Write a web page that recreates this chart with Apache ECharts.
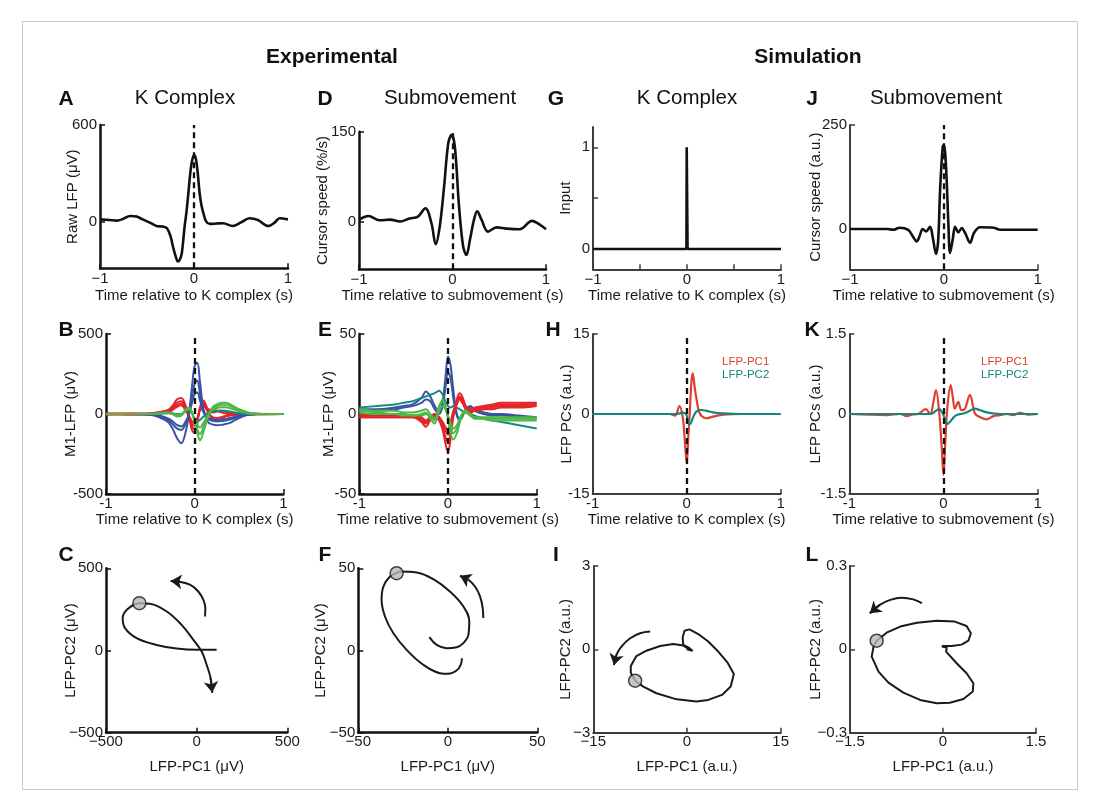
<!DOCTYPE html>
<html>
<head>
<meta charset="utf-8">
<script src="https://cdn.jsdelivr.net/npm/echarts@6/dist/echarts.min.js"></script>
<style>html,body{margin:0;padding:0;background:#fff}#c{width:1099px;height:810px}</style>
</head>
<body>
<div id="c"></div>
<script>
// ---------------- DATA ----------------
// Panel A: raw LFP around K complex
const A_T = [-1, -0.9, -0.82, -0.75, -0.68, -0.61, -0.54, -0.47, -0.4, -0.33, -0.29, -0.25, -0.22, -0.19, -0.17, -0.15, -0.13, -0.1, -0.08, -0.06, -0.04, -0.02, 0, 0.02, 0.04, 0.06, 0.08, 0.1, 0.13, 0.17, 0.24, 0.31, 0.41, 0.5, 0.59, 0.68, 0.79, 0.86, 0.91, 1];
const A_V = [14, 10, 6, 18, 35, 31, 12, -6, -27, -31, -40, -90, -165, -225, -248, -235, -197, -31, 60, 176, 300, 380, 414, 390, 300, 176, 100, 52, 0, -14, -12, -10, -27, -5, 21, 10, -27, -5, 21, 14];
// Panel D: cursor speed around submovement
const D_T = [-1, -0.95, -0.9, -0.78, -0.67, -0.56, -0.46, -0.37, -0.29, -0.225, -0.18, -0.136, -0.09, -0.046, -0.01, 0.025, 0.07, 0.114, 0.15, 0.186, 0.23, 0.264, 0.31, 0.38, 0.47, 0.58, 0.72, 0.85, 0.94, 1];
const D_V = [3, 7, 9, 2, 3, 0, 5, 8, 22, -3, -38, -8, 58, 130, 145, 125, 25, -42, -56, -31, 3, 17, 3, -17, -10, -12, -13, 1, -6, -13];
// Panel G: simulated input
const G_T = [-1, -0.006, -0.003, 0.003, 0.006, 1];
const G_V = [0, 0, 1, 1, 0, 0];
// Panel J: simulated cursor speed
const J_T = [-1, -0.8, -0.6, -0.54, -0.47, -0.38, -0.33, -0.29, -0.26, -0.225, -0.19, -0.147, -0.12, -0.083, -0.06, -0.04, -0.012, 0, 0.023, 0.048, 0.066, 0.094, 0.12, 0.155, 0.19, 0.225, 0.28, 0.32, 0.385, 0.53, 0.6, 0.81, 1];
const J_V = [0, 0, 0, -2, 3, -2, -18, -30, -18, 0, -6, 5, -18, -60, -26, 94, 198, 202, 150, 14, -58, -26, 5, -8, 2, -9, -33, -10, 4, 3, -2, -2, -2];
// Panel B: M1-LFP channels (K complex)
const B_T = [-1, -0.7, -0.5, -0.4, -0.3, -0.25, -0.2, -0.15, -0.1, -0.06, -0.03, 0, 0.03, 0.06, 0.1, 0.15, 0.2, 0.25, 0.3, 0.35, 0.4, 0.5, 0.6, 0.7, 1];
const B_BLUE1 = [0, 0, -5, -20, -50, -90, -150, -183, -110, 20, 170, 300, 320, 200, 30, -50, -65, -70, -68, -62, -55, -25, -5, 0, 0];
const B_BLUE2 = [0, 0, -5, -15, -38, -62, -90, -100, -60, 10, 110, 190, 210, 130, 20, -30, -42, -46, -45, -40, -35, -15, -3, 0, 0];
const B_BLUE3 = [0, 0, -3, -10, -28, -45, -68, -78, -45, 5, 70, 125, 135, 85, 10, -22, -32, -36, -35, -30, -25, -10, -2, 0, 0];
const B_RED1 = [0, -5, 0, 10, 25, 50, 90, 100, 50, -30, -100, -120, -60, 40, 85, 20, -30, -40, -30, -15, -10, -5, 0, 0, 0];
const B_RED2 = [5, 0, 5, 12, 20, 40, 70, 80, 35, -25, -80, -95, -45, 35, 70, 30, 10, 15, 20, 15, 10, 5, 2, 0, 0];
const B_RED3 = [-5, 0, 0, 8, 15, 30, 55, 65, 30, -20, -60, -75, -35, 30, 60, 10, -20, -25, -20, -10, -5, 0, -5, 0, 0];
const B_RED4 = [0, 5, 2, 5, 10, 25, 45, 55, 20, -15, -45, -55, -25, 20, 45, 30, 25, 20, 10, 5, 3, 0, 0, -3, 0];
const B_GREEN1 = [0, 0, 0, 5, 10, 0, -15, -10, 30, 40, 10, -50, -120, -165, -110, -20, 40, 60, 70, 70, 60, 30, 10, 2, 0];
const B_GREEN2 = [0, 0, 0, 4, 8, 0, -10, -5, 25, 35, 10, -40, -95, -125, -80, -10, 35, 50, 58, 57, 50, 25, 8, 2, 0];
const B_GREEN3 = [0, 0, 0, 3, 6, 2, -5, 0, 20, 30, 5, -30, -65, -85, -55, -5, 25, 38, 42, 42, 36, 18, 5, 1, 0];
const B_TEAL = [0, 0, 0, 2, 5, 5, 0, 0, 20, 28, 5, -30, -45, -38, -15, 5, 15, 20, 22, 20, 15, 5, 0, 0, 0];
// Panel E: M1-LFP channels (submovement)
const E_T = [-1, -0.8, -0.6, -0.5, -0.4, -0.3, -0.25, -0.2, -0.15, -0.1, -0.06, -0.03, 0, 0.03, 0.06, 0.1, 0.13, 0.16, 0.2, 0.25, 0.3, 0.4, 0.5, 0.6, 0.8, 1];
const E_BLUE1 = [3, 3, 4, 5, 6, 10, 14, 11, 5, 2, 8, 22, 36, 30, 15, 0, -4, -2, 3, 5, 3, 1, 0, 0, -1, -2];
const E_BLUE2 = [2, 2, 3, 4, 5, 7, 9, 8, 3, 0, 5, 16, 26, 22, 10, -1, -3, -1, 2, 4, 2, 0, -1, -1, -2, -3];
const E_RED1 = [-2, -2, -2, -2, -2, -5, -8, -4, -2, -4, -10, -18, -24, -15, -2, 9, 13, 11, 5, 1, 2, 3, 4, 5, 5, 6];
const E_RED2 = [-1, -1, -1, -1, -1, -4, -6, -3, -1, -3, -8, -14, -18, -11, 0, 8, 11, 9, 4, 2, 3, 4, 5, 6, 6, 7];
const E_RED3 = [-2, -2, -2, -2, -2, -3, -5, -2, 0, -2, -6, -10, -13, -8, 0, 6, 9, 7, 3, 1, 2, 3, 3, 4, 4, 5];
const E_RED4 = [0, 0, 0, -1, -1, -2, -4, -2, 0, -2, -5, -8, -10, -5, 2, 7, 10, 8, 4, 3, 4, 5, 6, 7, 7, 7];
const E_GREEN1 = [2, 1, 0, 0, -1, 0, 1, -3, -6, 4, 9, 5, -3, -12, -16, -12, -6, -1, 2, -1, -3, -3, -3, -3, -3, -3];
const E_GREEN2 = [3, 2, 2, 1, 1, 2, 3, 0, -3, 5, 8, 4, -2, -9, -12, -9, -4, 0, 2, 0, -2, -2, -2, -2, -2, -2];
const E_GREEN3 = [1, 0, 0, -1, -1, -1, 0, -2, -4, 2, 5, 3, -1, -6, -9, -7, -3, 0, 1, -1, -2, -3, -4, -4, -4, -4];
const E_TEAL = [4, 5, 6, 7, 8, 10, 11, 12, 13, 14.5, 12, 8, 5, 4, 5, 4, 3, 2, 1, 0, -1, -3, -4, -5, -7, -9];
// Panel H: simulated LFP PCs (K complex)
const H_T = [-1, -0.5, -0.18, -0.124, -0.078, -0.043, -0.02, 0, 0.018, 0.035, 0.05, 0.064, 0.085, 0.106, 0.13, 0.16, 0.21, 0.28, 0.39, 0.6, 1];
const H_PC1 = [0, 0, 0, -0.3, 1.5, -0.5, -5, -9.3, -4, 1, 6, 7.6, 5, 2.6, 0.5, -0.4, -0.8, -0.5, -0.1, 0, 0];
const H_PC2 = [0, 0, 0, 0, 0.1, 0.25, 0.2, -0.3, -1.5, -1.9, -1.5, -0.8, 0, 0.5, 0.75, 0.75, 0.6, 0.3, 0.1, 0, 0];
// Panel K: simulated LFP PCs (submovement)
const K_T = [-1, -0.6, -0.46, -0.39, -0.33, -0.27, -0.19, -0.14, -0.11, -0.08, -0.044, -0.02, 0, 0.02, 0.04, 0.076, 0.1, 0.12, 0.157, 0.19, 0.228, 0.28, 0.334, 0.39, 0.46, 0.53, 0.6, 0.67, 0.74, 0.81, 0.9, 1];
const K_PC1 = [0, -0.02, 0, -0.04, -0.01, 0, 0.09, 0, 0.2, 0.45, 0, -0.6, -1.14, -0.5, 0.1, 0.54, 0.3, 0.1, 0.23, 0.07, 0.1, 0.36, 0.01, -0.06, -0.1, -0.04, -0.02, 0, -0.02, 0.02, -0.01, 0];
const K_PC2 = [0, 0, 0, 0, 0, 0, 0, 0, 0.02, 0.06, 0.09, 0.05, -0.02, -0.12, -0.19, -0.13, -0.08, -0.04, -0.01, 0, 0.02, 0.06, 0.1, 0.07, 0.03, 0.01, 0, 0, 0, 0, 0, 0];
// Panel C: experimental PC trajectory (K complex)
const C_X = [110, 0, -110, -221, -331, -395, -408, -386, -316, -257, -165, -83, -18, 28, 55, 77, 86];
const C_Y = [4, 4, 12, 34, 75, 136, 197, 247, 288, 284, 237, 156, 65, -6, -87, -168, -256];
const C_DOT = [-316, 288];
const C_ARC_X = [46, 48, 37, 9, -37, -92, -143];
const C_ARC_Y = [207, 258, 308, 359, 400, 418, 422];
// Panel F: experimental PC trajectory (submovement)
const F_X = [7.9, 7.2, 4.9, 0.3, -4.4, -13.7, -23, -30.4, -35.1, -37, -36, -32.3, -28.6, -26.7, -17.4, -8.1, 1.2, 8.7, 12, 11.5, 8.7, 4.9, -0.7, -6.2, -10.3];
const F_Y = [-4.7, -8.7, -12.2, -14.2, -13.8, -8.7, 0.4, 10.5, 20.7, 30.8, 38.9, 45, 47, 48.1, 47.5, 43.4, 35.9, 26.8, 17.6, 9.5, 4.5, 2, 1.4, 3.4, 8.1];
const F_DOT = [-28.6, 47];
const F_ARC_X = [19.8, 19.5, 18, 15.2, 11.5, 6.8];
const F_ARC_Y = [19.7, 25.8, 32.9, 38.9, 43, 45.4];
// Panel I: simulated PC trajectory (K complex)
const I_X = [-0.05, 0.9, 1.1, 0.2, -0.6, -0.7, -0.4, 0.4, 1.8, 3.4, 5, 6.5, 7.5, 7, 5.6, 3.4, 1.5, -1.65, -4.9, -7, -8.3, -9, -9, -8.1, -6.5, -4.3, -2.2, -0.6, 0.2];
const I_Y = [0, -0.05, 0.02, 0.07, 0.16, 0.43, 0.67, 0.72, 0.55, 0.28, -0.08, -0.48, -0.89, -1.34, -1.64, -1.82, -1.88, -1.8, -1.58, -1.34, -1.13, -0.84, -0.6, -0.24, -0.05, 0.12, 0.19, 0.14, 0.02];
const I_DOT = [-8.3, -1.13];
const I_ARC_X = [-5.9, -7.5, -9.1, -10.5, -11.3, -11.7];
const I_ARC_Y = [0.64, 0.58, 0.4, 0.1, -0.2, -0.56];
// Panel L: simulated PC trajectory (submovement)
const L_X = [-0.02, 0.06, 0.05, 0.22, 0.38, 0.49, 0.48, 0.33, 0.11, -0.1, -0.37, -0.64, -0.88, -1.04, -1.15, -1.12, -1.07, -0.91, -0.69, -0.42, -0.1, 0.19, 0.38, 0.45, 0.41, 0.3, 0.14, -0.02];
const L_Y = [0.01, 0.007, -0.008, -0.05, -0.086, -0.122, -0.152, -0.179, -0.192, -0.194, -0.182, -0.156, -0.12, -0.08, -0.026, 0.01, 0.031, 0.06, 0.082, 0.096, 0.103, 0.1, 0.084, 0.058, 0.031, 0.017, 0.012, 0.012];
const L_DOT = [-1.07, 0.031];
const L_ARC_X = [-0.34, -0.48, -0.67, -0.85, -1.02, -1.18];
const L_ARC_Y = [0.166, 0.18, 0.186, 0.178, 0.16, 0.13];
// Tick labels
const TIME_TICKS = [-1, 0, 1];

// ---------------- LAYOUT / STYLE ----------------
const FONT = '"Liberation Sans", Arial, Helvetica, sans-serif';
const MINUS = '\u2212';
const EXP_AX = '#111111', SIM_AX = '#3d3d3d';
const COL = {blue: '#3853a4', red: '#e42528', green: '#4db748', teal: '#178a82', pc1: '#dc4130', pc2: '#15867f'};

// [left, top, width, height]
const GRID = [
  [100, 125, 188, 143.3],   // A
  [359, 131.7, 187, 137.6], // D
  [593, 127, 188, 142.3],   // G
  [850, 125, 187.7, 144.3], // J
  [106, 334, 177.3, 160],   // B
  [359.3, 334, 177.4, 160], // E
  [592.7, 334, 188, 160],   // H
  [849.3, 334, 188.4, 160], // K
  [106, 568.3, 181.3, 164.4], // C
  [358.3, 568.3, 179, 164.4], // F
  [593.3, 566, 187.4, 166.7], // I
  [850, 566, 186, 166.7]      // L
];

const AX = [
  {x:[-1,1], y:[-290,600], xt:TIME_TICKS, yt:[0,600], xn:'Time relative to K complex (s)', yn:'Raw LFP (\u03bcV)', ygap:20, xgap:20, xm:3, c:EXP_AX, w:2.5, minus:MINUS},
  {x:[-1,1], y:[-80,150], xt:TIME_TICKS, yt:[0,150], xn:'Time relative to submovement (s)', yn:'Cursor speed (%/s)', ygap:29, xgap:19, xm:3, c:EXP_AX, w:2.5, minus:MINUS},
  {x:[-1,1], y:[-0.2,1.2], xt:TIME_TICKS, xtt:[-1,-0.5,0,0.5,1], yt:[0,1], ytt:[0,0.5,1], xn:'Time relative to K complex (s)', yn:'Input', ygap:20, xgap:19, xm:3, c:SIM_AX, w:2, minus:MINUS},
  {x:[-1,1], y:[-97,250], xt:TIME_TICKS, yt:[0,250], xn:'Time relative to submovement (s)', yn:'Cursor speed (a.u.)', ygap:27, xgap:19, xm:3, c:SIM_AX, w:2, minus:MINUS},
  {x:[-1,1], y:[-500,500], xt:TIME_TICKS, yt:[-500,0,500], xn:'Time relative to K complex (s)', yn:'M1-LFP (\u03bcV)', ygap:28, xgap:18, xm:2, c:EXP_AX, w:2.5, minus:'-'},
  {x:[-1,1], y:[-50,50], xt:TIME_TICKS, yt:[-50,0,50], xn:'Time relative to submovement (s)', yn:'M1-LFP (\u03bcV)', ygap:23, xgap:18, xm:2, c:EXP_AX, w:2.5, minus:'-'},
  {x:[-1,1], y:[-15,15], xt:TIME_TICKS, yt:[-15,0,15], xn:'Time relative to K complex (s)', yn:'LFP PCs (a.u.)', ygap:18, xgap:18, xm:2, c:SIM_AX, w:2, minus:'-'},
  {x:[-1,1], y:[-1.5,1.5], xt:TIME_TICKS, yt:[-1.5,0,1.5], xn:'Time relative to submovement (s)', yn:'LFP PCs (a.u.)', ygap:26, xgap:18, xm:2, c:SIM_AX, w:2, minus:'-'},
  {x:[-500,500], y:[-500,500], xt:[-500,0,500], yt:[-500,0,500], xn:'LFP-PC1 (\u03bcV)', yn:'LFP-PC2 (\u03bcV)', ygap:28, xgap:27, xm:2, c:EXP_AX, w:2.5, minus:MINUS},
  {x:[-50,50], y:[-50,50], xt:[-50,0,50], yt:[-50,0,50], xn:'LFP-PC1 (\u03bcV)', yn:'LFP-PC2 (\u03bcV)', ygap:30, xgap:27, xm:2, c:EXP_AX, w:2.5, minus:MINUS},
  {x:[-15,15], y:[-3,3], xt:[-15,0,15], yt:[-3,0,3], xn:'LFP-PC1 (a.u.)', yn:'LFP-PC2 (a.u.)', ygap:20, xgap:27, xm:2, c:SIM_AX, w:2, minus:MINUS},
  {x:[-1.5,1.5], y:[-0.3,0.3], xt:[-1.5,0,1.5], yt:[-0.3,0,0.3], xn:'LFP-PC1 (a.u.)', yn:'LFP-PC2 (a.u.)', ygap:27, xgap:27, xm:2, c:SIM_AX, w:2, minus:MINUS}
];

const grids = GRID.map(g => ({left: g[0], top: g[1], width: g[2], height: g[3], containLabel: false}));
const textStyle = {fontFamily: FONT, fontSize: 15, color: '#1a1a1a'};

const xAxes = AX.map((a, i) => ({
  gridIndex: i, type: 'value', min: a.x[0], max: a.x[1],
  axisLine: {show: true, onZero: false, lineStyle: {color: a.c, width: a.w}},
  axisTick: {show: true, inside: true, length: 5, customValues: a.xtt || a.xt, lineStyle: {color: a.c, width: 1.5}},
  axisLabel: {customValues: a.xt, margin: a.xm, ...textStyle, formatter: v => String(v).replace('-', a.minus)},
  splitLine: {show: false},
  name: a.xn, nameLocation: 'middle', nameGap: a.xgap, nameMoveOverlap: false, nameTextStyle: {...textStyle}
}));
const yAxes = AX.map((a, i) => ({
  gridIndex: i, type: 'value', min: a.y[0], max: a.y[1],
  axisLine: {show: true, onZero: false, lineStyle: {color: a.c, width: a.w}},
  axisTick: {show: true, inside: true, length: 5, customValues: a.ytt || a.yt, lineStyle: {color: a.c, width: 1.5}},
  axisLabel: {customValues: a.yt, margin: 3, ...textStyle, formatter: v => String(v).replace('-', a.minus)},
  splitLine: {show: false},
  name: a.yn, nameLocation: 'middle', nameGap: a.ygap, nameMoveOverlap: false, nameTextStyle: {...textStyle}
}));

const zip = (X, Y) => X.map((x, i) => [x, Y[i]]);
const dashed = {silent: true, symbol: ['none', 'none'], label: {show: false}, animation: false,
  lineStyle: {type: [6, 4], color: '#111', width: 2.3}, data: [{xAxis: 0}]};

function ts(gi, T, V, color, width, opts) {
  return Object.assign({type: 'line', xAxisIndex: gi, yAxisIndex: gi, data: zip(T, V), symbol: 'none', showSymbol: false,
    smooth: 0.35, lineStyle: {color: color, width: width}, animation: false, z: 3}, opts || {});
}
function traj(gi, X, Y, smooth) {
  return {type: 'line', xAxisIndex: gi, yAxisIndex: gi, data: zip(X, Y), symbol: 'none', showSymbol: false,
    smooth: smooth, lineStyle: {color: '#1a1a1a', width: 2}, animation: false, z: 3};
}
function arrowHead(gi, X, Y) {
  const n = X.length;
  return {type: 'lines', coordinateSystem: 'cartesian2d', xAxisIndex: gi, yAxisIndex: gi,
    symbol: ['none', 'arrow'], symbolSize: 11, animation: false, z: 4,
    lineStyle: {color: '#1a1a1a', width: 2, opacity: 1},
    data: [{coords: [[X[n - 2], Y[n - 2]], [X[n - 1], Y[n - 1]]]}]};
}
function dot(gi, P) {
  return {type: 'scatter', xAxisIndex: gi, yAxisIndex: gi, data: [P], symbol: 'circle', symbolSize: 13,
    itemStyle: {color: '#b8b8b8', borderColor: '#1a1a1a', borderWidth: 1.5}, animation: false, z: 6};
}

const series = [
  ts(0, A_T, A_V, '#111', 2.6, {markLine: dashed}),
  ts(1, D_T, D_V, '#111', 2.6, {markLine: dashed}),
  ts(2, G_T, G_V, '#111', 2.6, {smooth: false}),
  ts(3, J_T, J_V, '#111', 2.6, {markLine: dashed}),
  ts(4, B_T, B_RED1, COL.red, 2), ts(4, B_T, B_RED2, COL.red, 2), ts(4, B_T, B_RED3, COL.red, 2), ts(4, B_T, B_RED4, COL.red, 2),
  ts(4, B_T, B_BLUE1, COL.blue, 2), ts(4, B_T, B_BLUE2, COL.blue, 2), ts(4, B_T, B_BLUE3, COL.blue, 2),
  ts(4, B_T, B_TEAL, COL.teal, 2),
  ts(4, B_T, B_GREEN1, COL.green, 2), ts(4, B_T, B_GREEN2, COL.green, 2), ts(4, B_T, B_GREEN3, COL.green, 2, {markLine: dashed}),
  ts(5, E_T, E_BLUE1, COL.blue, 2), ts(5, E_T, E_BLUE2, COL.blue, 2),
  ts(5, E_T, E_TEAL, COL.teal, 2),
  ts(5, E_T, E_RED1, COL.red, 2), ts(5, E_T, E_RED2, COL.red, 2), ts(5, E_T, E_RED3, COL.red, 2), ts(5, E_T, E_RED4, COL.red, 2),
  ts(5, E_T, E_GREEN1, COL.green, 2), ts(5, E_T, E_GREEN2, COL.green, 2), ts(5, E_T, E_GREEN3, COL.green, 2, {markLine: dashed}),
  ts(6, H_T, H_PC1, COL.pc1, 2.2), ts(6, H_T, H_PC2, COL.pc2, 2.2, {markLine: dashed}),
  ts(7, K_T, K_PC1, COL.pc1, 2.2), ts(7, K_T, K_PC2, COL.pc2, 2.2, {markLine: dashed}),
  traj(8, C_X, C_Y, 0.4), arrowHead(8, C_X, C_Y), traj(8, C_ARC_X, C_ARC_Y, 0.4), arrowHead(8, C_ARC_X, C_ARC_Y), dot(8, C_DOT),
  traj(9, F_X, F_Y, 0.4), traj(9, F_ARC_X, F_ARC_Y, 0.4), arrowHead(9, F_ARC_X, F_ARC_Y), dot(9, F_DOT),
  traj(10, I_X, I_Y, false), traj(10, I_ARC_X, I_ARC_Y, 0.4), arrowHead(10, I_ARC_X, I_ARC_Y), dot(10, I_DOT),
  traj(11, L_X, L_Y, false), traj(11, L_ARC_X, L_ARC_Y, 0.4), arrowHead(11, L_ARC_X, L_ARC_Y), dot(11, L_DOT)
];

function txt(x, y, s, size, weight, color, align) {
  return {type: 'text', x: x, y: y, silent: true, z: 100,
    style: {text: s, fontFamily: FONT, fontSize: size, fontWeight: weight || 'normal', fill: color || '#111',
      align: align || 'center', verticalAlign: 'middle'}};
}
const graphic = [
  {type: 'rect', shape: {x: 22.5, y: 21.5, width: 1055, height: 768}, style: {fill: 'none', stroke: '#c9c9c9', lineWidth: 1}, silent: true, z: 0},
  txt(332, 57, 'Experimental', 21, 'bold'),
  txt(808, 57, 'Simulation', 21, 'bold'),
  txt(66, 99, 'A', 21, 'bold'), txt(325, 99, 'D', 21, 'bold'), txt(556, 99, 'G', 21, 'bold'), txt(812, 99, 'J', 21, 'bold'),
  txt(66, 330, 'B', 21, 'bold'), txt(325, 330, 'E', 21, 'bold'), txt(553, 330, 'H', 21, 'bold'), txt(812, 330, 'K', 21, 'bold'),
  txt(66, 555, 'C', 21, 'bold'), txt(325, 555, 'F', 21, 'bold'), txt(556, 555, 'I', 21, 'bold'), txt(812, 555, 'L', 21, 'bold'),
  txt(185, 98, 'K Complex', 20.5), txt(450, 98, 'Submovement', 20.5), txt(687, 98, 'K Complex', 20.5), txt(936, 98, 'Submovement', 20.5),
  txt(722, 362, 'LFP-PC1', 11.5, 'normal', COL.pc1, 'left'), txt(722, 375, 'LFP-PC2', 11.5, 'normal', COL.pc2, 'left'),
  txt(981, 362, 'LFP-PC1', 11.5, 'normal', COL.pc1, 'left'), txt(981, 375, 'LFP-PC2', 11.5, 'normal', COL.pc2, 'left')
];

const chart = echarts.init(document.getElementById('c'), null, {renderer: 'canvas'});
chart.setOption({
  animation: false,
  backgroundColor: '#ffffff',
  grid: grids, xAxis: xAxes, yAxis: yAxes, series: series, graphic: graphic
});
</script>
</body>
</html>
